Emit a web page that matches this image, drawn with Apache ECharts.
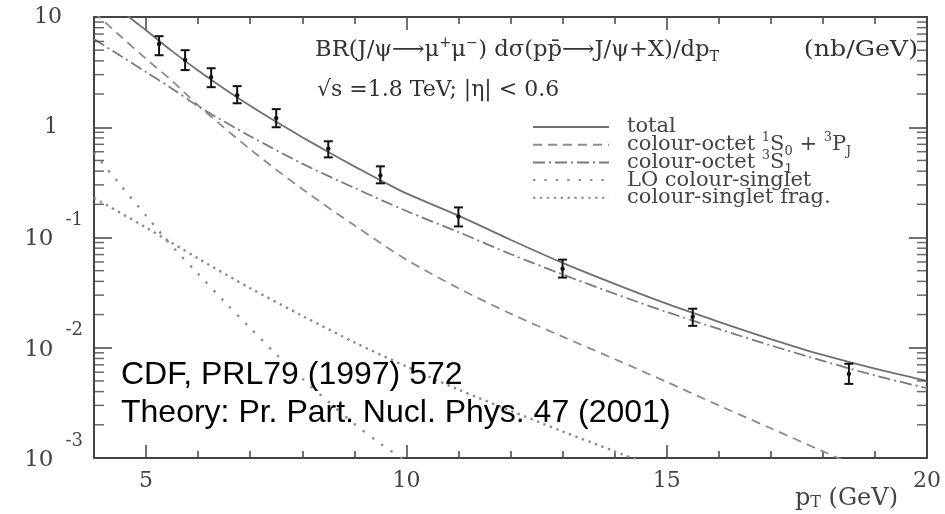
<!DOCTYPE html>
<html><head><meta charset="utf-8">
<script src="https://cdn.jsdelivr.net/npm/echarts@6/dist/echarts.min.js"></script>
<style>html,body{margin:0;padding:0;background:#fff}#c{width:945px;height:514px}</style>
</head><body><div id="c"></div>
<script>
// ---- data ----
const ptX    = [5.25, 5.75, 6.25, 6.75, 7.5, 8.5, 9.5, 11, 13, 15.5, 18.5];
const ptY    = [5.7, 4.07, 2.85, 1.95, 1.21, 0.64, 0.366, 0.155, 0.052, 0.0191, 0.0058];
const ptLow  = [4.5, 3.3, 2.31, 1.65, 1.0, 0.533, 0.31, 0.126, 0.0433, 0.0158, 0.0047];
const ptHigh = [6.7, 5.0, 3.43, 2.36, 1.46, 0.746, 0.442, 0.1875, 0.063, 0.0226, 0.00716];

const totalX = [4.5, 4.7, 5, 5.5, 6, 6.5, 7, 7.5, 8, 8.5, 9, 9.5, 10, 11, 12, 13, 14, 15, 16, 17, 18, 19, 20];
const totalY = [12.3, 9.8, 7.59, 4.9, 3.27, 2.24, 1.57, 1.12, 0.813, 0.596, 0.442, 0.331, 0.251, 0.158, 0.0955, 0.0589, 0.038, 0.0251, 0.0172, 0.012, 0.0086, 0.00646, 0.00501];

const octPX = [4, 4.5, 5, 5.5, 6, 7, 8, 9, 10, 11, 12, 13, 14, 15, 16, 17, 18, 19];
const octPY = [11.0, 6.76, 4.17, 2.63, 1.58, 0.631, 0.275, 0.129, 0.063, 0.0347, 0.0204, 0.0126, 0.0079, 0.0049, 0.003, 0.00186, 0.00115, 0.00071];

const octSX = [4, 4.5, 5, 5.5, 6, 7, 8, 9, 10, 11, 12, 13, 14, 15, 16, 17, 18, 19, 20];
const octSY = [6.3, 4.47, 3.16, 2.24, 1.55, 0.83, 0.468, 0.282, 0.174, 0.112, 0.0708, 0.0462, 0.0309, 0.0211, 0.0148, 0.0105, 0.0076, 0.0056, 0.0043];

const loX = [4, 4.5, 5, 5.5, 6, 6.5, 7, 7.5, 8, 8.5, 9, 9.5, 10, 10.5];
const loY = [0.589, 0.302, 0.158, 0.0832, 0.0468, 0.0263, 0.0151, 0.0087, 0.00525, 0.00324, 0.00204, 0.00135, 0.00093, 0.00065];

const fragX = [4, 5, 6, 7, 8, 9, 10, 11, 12, 13, 14, 15];
const fragY = [0.229, 0.123, 0.0646, 0.0347, 0.0195, 0.0112, 0.00676, 0.00417, 0.00269, 0.00174, 0.00115, 0.00076];

const seriesNames = ['total', 'colour-octet 1S0 + 3PJ', 'colour-octet 3S1', 'LO colour-singlet', 'colour-singlet frag.'];
const legendLabels = [
  '{f|total}',
  '{f|colour-octet }{sup|1}{t|S}{sub|0}{t| + }{sup|3}{t|P}{sub|J}',
  '{f|colour-octet }{sup|3}{t|S}{sub|1}',
  '{f|LO colour-singlet}',
  '{f|colour-singlet frag.}'
];
const yMinorTicks = [0.002,0.003,0.004,0.005,0.006,0.007,0.008,0.009,
                     0.02,0.03,0.04,0.05,0.06,0.07,0.08,0.09,
                     0.2,0.3,0.4,0.5,0.6,0.7,0.8,0.9,
                     2,3,4,5,6,7,8,9];
const titleTextA = 'BR(J/ψ⟶μ{sup|+}μ{sup|−}) dσ(pp̄⟶J/ψ+X)/dp{sub|T}';
const titleTextB = '(nb/GeV)';
const subText = '√s =1.8 TeV; |η| < 0.6';
const noteLines = ['CDF, PRL79 (1997) 572', 'Theory: Pr. Part. Nucl. Phys. 47 (2001)'];
const xName = '{a|p}{s|T}{a| (GeV)}';

// ---- chart ----
const SERIF = 'DejaVu Serif';
const AX = '#444';
const TXT = '#333';
const pairs = (xs, ys) => xs.map((x, i) => [x, ys[i]]);

const baseX = {
  type: 'value', min: 4, max: 20,
  splitLine: { show: false },
  axisLine: { show: true, onZero: false, lineStyle: { color: AX, width: 2 } }
};

const titleRich = {
  sup: { fontFamily: SERIF, fontSize: 14, fill: TXT, lineHeight: 14, padding: [0, 0, 14, 0] },
  sub: { fontFamily: SERIF, fontSize: 14, fill: TXT, lineHeight: 14, padding: [14, 0, 0, 0] }
};

const option = {
  animation: false,
  backgroundColor: '#fff',
  grid: { left: 94, right: 18, top: 17, bottom: 56, outerBoundsMode: 'none' },
  xAxis: [
    Object.assign({}, baseX, { position: 'bottom', interval: 1,
      axisTick: { inside: true, length: 7, lineStyle: { color: AX, width: 1.5 } },
      axisLabel: { show: false } }),
    Object.assign({}, baseX, { position: 'bottom', minInterval: 5, maxInterval: 5,
      axisLine: { show: false, onZero: false },
      axisTick: { inside: true, length: 13, lineStyle: { color: AX, width: 1.5 } },
      axisLabel: { show: true, showMinLabel: false, margin: 12, fontFamily: SERIF, fontSize: 22, color: AX },
      name: xName, nameLocation: 'end', nameGap: -29,
      nameTextStyle: { align: 'right', verticalAlign: 'top', padding: [29, 0, 0, 0],
        rich: {
          a: { fontFamily: SERIF, fontSize: 24, color: AX, lineHeight: 24 },
          s: { fontFamily: SERIF, fontSize: 16, color: AX, lineHeight: 4, verticalAlign: 'bottom' }
        } } }),
    Object.assign({}, baseX, { position: 'top', interval: 1,
      axisTick: { inside: true, length: 7, lineStyle: { color: AX, width: 1.5 } },
      axisLabel: { show: false } }),
    Object.assign({}, baseX, { position: 'top', minInterval: 5, maxInterval: 5,
      axisLine: { show: false, onZero: false },
      axisTick: { inside: true, length: 13, lineStyle: { color: AX, width: 1.5 } },
      axisLabel: { show: false } })
  ],
  yAxis: [
    { type: 'log', logBase: 10, min: 0.001, max: 10, position: 'left',
      splitLine: { show: false },
      axisLine: { show: true, onZero: false, lineStyle: { color: AX, width: 2 } },
      axisTick: { inside: true, length: 18, lineStyle: { color: AX, width: 1.5 } },
      axisLabel: {
        margin: 11,
        formatter: function (v) {
          const e = Math.round(Math.log10(v));
          if (e === 1) return '{p|10}';
          if (e === 0) return '{q|1}';
          return '{m|10}{e|' + e + '}';
        },
        rich: {
          p: { fontFamily: SERIF, fontSize: 22, color: AX, padding: [0, 21, 0, 0] },
          q: { fontFamily: SERIF, fontSize: 22, color: AX, padding: [0, 25, 0, 0] },
          m: { fontFamily: SERIF, fontSize: 23, color: AX, lineHeight: 22, padding: [4, 0, 0, 0] },
          e: { fontFamily: SERIF, fontSize: 18, color: AX, lineHeight: 16, padding: [0, 0, 34, 12] }
        }
      } },
    { type: 'log', logBase: 10, min: 0.001, max: 10, position: 'right',
      splitLine: { show: false },
      axisLine: { show: true, onZero: false, lineStyle: { color: AX, width: 2 } },
      axisTick: { inside: true, length: 18, lineStyle: { color: AX, width: 1.5 } },
      axisLabel: { show: false } }
  ],
  legend: {
    orient: 'vertical', left: 532, top: 113.5, padding: 0,
    itemWidth: 76, itemHeight: 14, itemGap: -9.3,
    selectedMode: false,
    data: seriesNames,
    itemStyle: { opacity: 0, color: 'rgba(0,0,0,0)', borderWidth: 0 },
    formatter: function (name) { return legendLabels[seriesNames.indexOf(name)]; },
    textStyle: {
      color: AX, fontFamily: SERIF, fontSize: 21, lineHeight: 27,
      rich: {
        f: { fontFamily: SERIF, fontSize: 21, color: AX, lineHeight: 27, padding: [0, 0, 0, 13] },
        t: { fontFamily: SERIF, fontSize: 21, color: AX, lineHeight: 27 },
        sup: { fontFamily: SERIF, fontSize: 13, color: AX, lineHeight: 13, padding: [0, 0, 14, 0] },
        sub: { fontFamily: SERIF, fontSize: 13, color: AX, lineHeight: 13, padding: [14, 0, 0, 0] }
      }
    }
  },
  graphic: [
    { type: 'text', x: 315, y: 50, z: 50, scaleX: 1.03,
      style: { text: titleTextA, fontFamily: SERIF, fontSize: 22, fill: TXT, verticalAlign: 'middle', lineHeight: 28, rich: titleRich } },
    { type: 'text', x: 918, y: 50, z: 50, scaleX: 1.15,
      style: { text: titleTextB, fontFamily: SERIF, fontSize: 22, fill: TXT, verticalAlign: 'middle', align: 'right' } },
    { type: 'text', x: 317, y: 90, z: 50,
      style: { text: subText, fontFamily: SERIF, fontSize: 22, fill: TXT, verticalAlign: 'middle' } },
    { type: 'text', x: 121, y: 356, z: 50,
      style: { text: noteLines.join('\n'), fontFamily: 'Liberation Sans', fontSize: 32, lineHeight: 38, fill: '#000', verticalAlign: 'top' } }
  ],
  series: [
    { name: seriesNames[0], type: 'line', data: pairs(totalX, totalY), smooth: 0.3, symbol: 'none', z: 3,
      lineStyle: { color: '#707070', width: 1.8, type: 'solid' }, itemStyle: { color: '#707070' } },
    { name: seriesNames[1], type: 'line', data: pairs(octPX, octPY), smooth: 0.3, symbol: 'none', z: 2,
      lineStyle: { color: '#8c8c8c', width: 1.8, type: [9, 6] }, itemStyle: { color: '#8c8c8c' } },
    { name: seriesNames[2], type: 'line', data: pairs(octSX, octSY), smooth: 0.3, symbol: 'none', z: 2,
      lineStyle: { color: '#7a7a7a', width: 1.8, type: [12, 4, 2, 4] }, itemStyle: { color: '#7a7a7a' } },
    { name: seriesNames[3], type: 'line', data: pairs(loX, loY), smooth: 0.3, symbol: 'none', z: 2,
      lineStyle: { color: '#8c8c8c', width: 2.4, type: [2.4, 9] }, itemStyle: { color: '#8c8c8c' } },
    { name: seriesNames[4], type: 'line', data: pairs(fragX, fragY), smooth: 0.3, symbol: 'none', z: 2,
      lineStyle: { color: '#8c8c8c', width: 2.4, type: [2.4, 4.5] }, itemStyle: { color: '#8c8c8c' } },
    { name: 'CDF data', type: 'custom', z: 10,
      data: ptX.map((x, i) => [x, ptY[i], ptLow[i], ptHigh[i]]),
      encode: { x: 0, y: [1, 2, 3] },
      renderItem: function (params, api) {
        const c = api.coord([api.value(0), api.value(1)]);
        const lo = api.coord([api.value(0), api.value(2)]);
        const hi = api.coord([api.value(0), api.value(3)]);
        const w = 4.5, st = { stroke: '#111', lineWidth: 2 };
        return { type: 'group', children: [
          { type: 'line', shape: { x1: c[0], y1: lo[1], x2: c[0], y2: hi[1] }, style: st },
          { type: 'line', shape: { x1: c[0] - w, y1: hi[1], x2: c[0] + w, y2: hi[1] }, style: st },
          { type: 'line', shape: { x1: c[0] - w, y1: lo[1], x2: c[0] + w, y2: lo[1] }, style: st },
          { type: 'circle', shape: { cx: c[0], cy: c[1], r: 2.2 }, style: { fill: '#111' } }
        ] };
      } },
    { name: 'ticksL', type: 'scatter', data: yMinorTicks.map(v => [4, v]), symbol: 'rect', symbolSize: [10, 1.5], symbolOffset: [5, 0],
      itemStyle: { color: AX }, silent: true, clip: false, z: 6 },
    { name: 'ticksR', type: 'scatter', data: yMinorTicks.map(v => [20, v]), symbol: 'rect', symbolSize: [10, 1.5], symbolOffset: [-5, 0],
      itemStyle: { color: AX }, silent: true, clip: false, z: 6 }
  ]
};

const chart = echarts.init(document.getElementById('c'), null, { renderer: 'canvas' });
chart.setOption(option);
</script>
</body></html>
